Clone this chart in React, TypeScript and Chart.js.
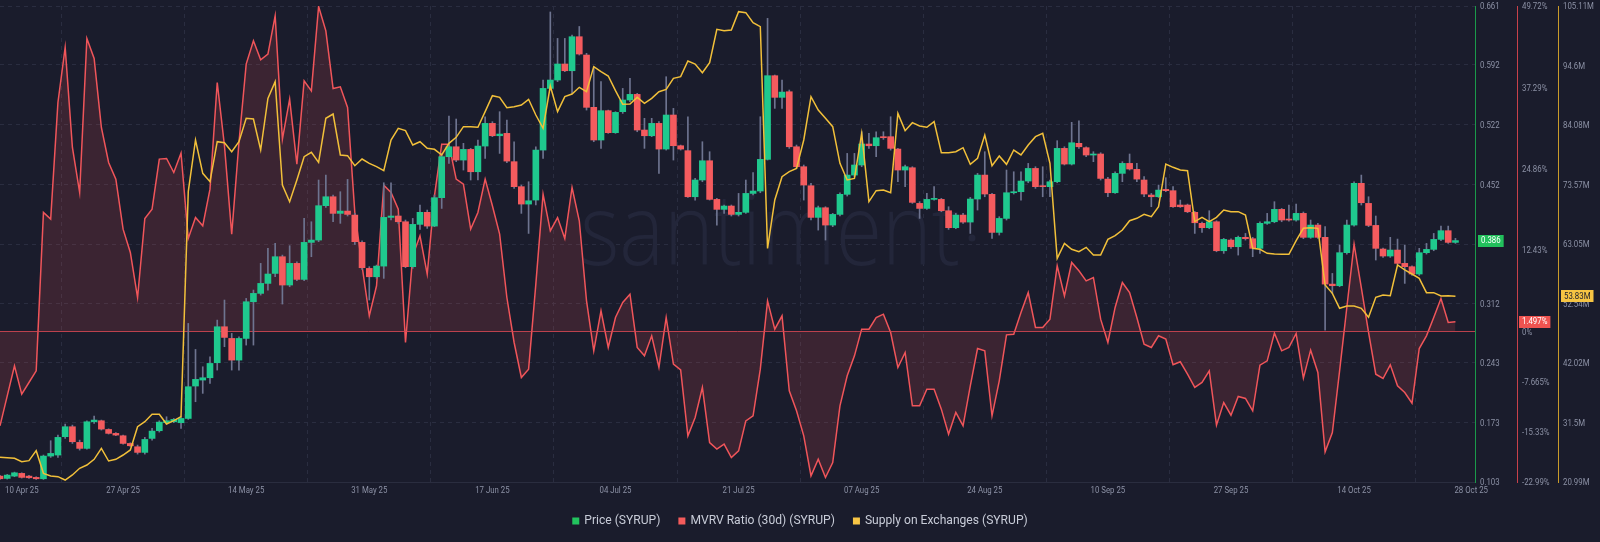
import React, { useEffect, useRef } from 'react';
import { Chart, registerables } from 'chart.js';
Chart.register(...registerables);

// ---------- data ----------
const tickDays = [0, 17, 34, 51, 68, 85, 102, 119, 136, 153, 170, 187, 201];
const tickLabels = ['10 Apr 25', '27 Apr 25', '14 May 25', '31 May 25', '17 Jun 25', '04 Jul 25', '21 Jul 25', '07 Aug 25', '24 Aug 25', '10 Sep 25', '27 Sep 25', '14 Oct 25', '28 Oct 25'];

// daily candles [open, high, low, close], Price (SYRUP)
const ohlc: number[][] = [
  [0.1099, 0.1107, 0.106, 0.1068], [0.1072, 0.1119, 0.1064, 0.1111], [0.1099, 0.1146, 0.1092, 0.1138], [0.1131, 0.1138, 0.1076, 0.1084],
  [0.1099, 0.1107, 0.1072, 0.108], [0.1084, 0.1092, 0.106, 0.1068], [0.1068, 0.1346, 0.106, 0.1334], [0.1334, 0.1514, 0.1318, 0.1365],
  [0.1346, 0.158, 0.1318, 0.1553], [0.1561, 0.1709, 0.1541, 0.1678], [0.1678, 0.1697, 0.1482, 0.1502], [0.1494, 0.1521, 0.1404, 0.1424],
  [0.1424, 0.1748, 0.1416, 0.1736], [0.1736, 0.1803, 0.1717, 0.1756], [0.1748, 0.1756, 0.1639, 0.165], [0.1646, 0.1654, 0.1592, 0.16],
  [0.16, 0.1608, 0.1572, 0.158], [0.1572, 0.158, 0.1474, 0.1482], [0.1482, 0.149, 0.1447, 0.1455], [0.1443, 0.1463, 0.1357, 0.1377],
  [0.1377, 0.1553, 0.1357, 0.1529], [0.1541, 0.1658, 0.1521, 0.1627], [0.1631, 0.1748, 0.1615, 0.1732], [0.1725, 0.1795, 0.1709, 0.1748],
  [0.1736, 0.1775, 0.1725, 0.1764], [0.1725, 0.1795, 0.1658, 0.1775], [0.1775, 0.2889, 0.1764, 0.2147], [0.2155, 0.2584, 0.1971, 0.2233],
  [0.2225, 0.2381, 0.2069, 0.2252], [0.2252, 0.2498, 0.2186, 0.242], [0.2428, 0.2928, 0.2342, 0.285], [0.285, 0.3163, 0.2616, 0.2725],
  [0.2713, 0.2772, 0.2342, 0.2459], [0.2459, 0.2733, 0.2342, 0.2713], [0.2713, 0.3182, 0.2635, 0.3143], [0.3143, 0.328, 0.2635, 0.3241],
  [0.3241, 0.3593, 0.3221, 0.3358], [0.3358, 0.3769, 0.328, 0.3468], [0.3475, 0.3827, 0.3436, 0.3671], [0.3671, 0.369, 0.3116, 0.3339],
  [0.3339, 0.38, 0.3319, 0.3593], [0.3593, 0.3612, 0.3389, 0.3405], [0.3405, 0.412, 0.3389, 0.3839], [0.3839, 0.4081, 0.3671, 0.3866],
  [0.3866, 0.457, 0.3847, 0.4269], [0.4269, 0.4628, 0.4249, 0.4374], [0.4374, 0.4394, 0.4081, 0.4179], [0.4179, 0.4433, 0.4062, 0.4206],
  [0.4206, 0.4577, 0.4148, 0.4167], [0.4159, 0.4179, 0.3815, 0.3847], [0.3839, 0.3858, 0.3522, 0.3542], [0.3534, 0.3554, 0.3163, 0.3436],
  [0.3436, 0.3573, 0.3417, 0.3561], [0.3561, 0.4538, 0.3417, 0.4132], [0.4132, 0.4538, 0.4101, 0.4148], [0.4148, 0.4159, 0.4062, 0.4081],
  [0.4081, 0.4101, 0.3542, 0.3554], [0.3554, 0.412, 0.3534, 0.405], [0.405, 0.4277, 0.3991, 0.4191], [0.4191, 0.4218, 0.4003, 0.403],
  [0.403, 0.4394, 0.4023, 0.4363], [0.4363, 0.4882, 0.4237, 0.4843], [0.4843, 0.532, 0.4765, 0.496], [0.496, 0.5285, 0.4785, 0.4804],
  [0.4804, 0.5, 0.4687, 0.4929], [0.4929, 0.4941, 0.457, 0.4667], [0.4667, 0.5039, 0.457, 0.4968], [0.4968, 0.5312, 0.4824, 0.5234],
  [0.5234, 0.5254, 0.5078, 0.5089], [0.5089, 0.5371, 0.4882, 0.5109], [0.5117, 0.5273, 0.4773, 0.4792], [0.4785, 0.5019, 0.4472, 0.4492],
  [0.4492, 0.4511, 0.4179, 0.4288], [0.4288, 0.455, 0.3944, 0.4327], [0.4335, 0.496, 0.4277, 0.4921], [0.4921, 0.5742, 0.4824, 0.5644],
  [0.5644, 0.654, 0.5625, 0.5742], [0.5742, 0.623, 0.5723, 0.593], [0.593, 0.623, 0.584, 0.5851], [0.5851, 0.627, 0.5586, 0.625],
  [0.625, 0.637, 0.6035, 0.6047], [0.6035, 0.6055, 0.539, 0.5422], [0.5422, 0.5898, 0.5019, 0.5039], [0.5039, 0.5723, 0.4941, 0.5383],
  [0.5383, 0.539, 0.5117, 0.5125], [0.5125, 0.5371, 0.5117, 0.5363], [0.5371, 0.5644, 0.5351, 0.5508], [0.5508, 0.5762, 0.5488, 0.5574],
  [0.5574, 0.5586, 0.5136, 0.5156], [0.5156, 0.5293, 0.4941, 0.5089], [0.5089, 0.5293, 0.5078, 0.5234], [0.5234, 0.5254, 0.4648, 0.4933],
  [0.4933, 0.5781, 0.4921, 0.5332], [0.5332, 0.541, 0.4804, 0.4972], [0.4972, 0.498, 0.4921, 0.4933], [0.4914, 0.5312, 0.4366, 0.4374],
  [0.4374, 0.4589, 0.4335, 0.457], [0.457, 0.5019, 0.455, 0.4796], [0.4796, 0.4902, 0.4335, 0.4343], [0.4343, 0.4355, 0.4042, 0.4226],
  [0.4226, 0.4277, 0.4179, 0.4265], [0.4265, 0.4277, 0.4148, 0.4167], [0.4167, 0.4413, 0.4148, 0.4191], [0.4191, 0.457, 0.4179, 0.4413],
  [0.4413, 0.4656, 0.4394, 0.4441], [0.4441, 0.5312, 0.4421, 0.4812], [0.4812, 0.6465, 0.4804, 0.5793], [0.5793, 0.5801, 0.541, 0.5539],
  [0.5539, 0.5742, 0.541, 0.5601], [0.5605, 0.5625, 0.4941, 0.496], [0.496, 0.498, 0.4706, 0.4726], [0.4726, 0.4746, 0.4335, 0.4511],
  [0.4503, 0.4531, 0.4101, 0.4132], [0.4132, 0.4265, 0.3983, 0.4245], [0.4245, 0.4257, 0.3866, 0.4042], [0.4042, 0.4179, 0.4023, 0.4167],
  [0.4167, 0.4421, 0.4148, 0.4402], [0.4402, 0.4882, 0.4382, 0.4628], [0.4628, 0.4882, 0.4609, 0.4746], [0.4746, 0.5136, 0.4726, 0.4992],
  [0.4992, 0.5117, 0.4941, 0.4972], [0.4972, 0.5136, 0.4843, 0.5066], [0.5078, 0.5136, 0.5046, 0.5066], [0.5078, 0.5312, 0.4921, 0.4941],
  [0.4933, 0.4941, 0.455, 0.4687], [0.4687, 0.4746, 0.4492, 0.4726], [0.4714, 0.4726, 0.4296, 0.4308], [0.4296, 0.4316, 0.412, 0.4237],
  [0.4237, 0.4413, 0.4226, 0.4343], [0.4343, 0.4492, 0.4335, 0.4355], [0.4343, 0.4355, 0.4198, 0.421], [0.421, 0.4257, 0.3991, 0.4011],
  [0.4011, 0.4179, 0.3999, 0.4159], [0.4159, 0.4179, 0.4062, 0.4077], [0.4077, 0.4366, 0.3944, 0.4347], [0.4347, 0.4648, 0.4218, 0.4628],
  [0.4628, 0.4902, 0.4374, 0.4406], [0.4402, 0.4413, 0.3886, 0.3956], [0.3956, 0.414, 0.3925, 0.412], [0.412, 0.4687, 0.4101, 0.4421],
  [0.4421, 0.4667, 0.4406, 0.4433], [0.4433, 0.4667, 0.4335, 0.4558], [0.4558, 0.4765, 0.4538, 0.4706], [0.4706, 0.4726, 0.4472, 0.4492],
  [0.4499, 0.4726, 0.4374, 0.4492], [0.4492, 0.457, 0.4374, 0.455], [0.455, 0.5031, 0.4538, 0.4941], [0.4941, 0.496, 0.4746, 0.4757],
  [0.4757, 0.5246, 0.4746, 0.5007], [0.5, 0.5265, 0.4941, 0.496], [0.4949, 0.496, 0.4843, 0.4863], [0.4863, 0.4902, 0.4785, 0.4875],
  [0.4875, 0.489, 0.457, 0.4589], [0.4581, 0.4601, 0.4374, 0.4421], [0.4421, 0.4667, 0.4413, 0.4648], [0.4648, 0.4785, 0.455, 0.4765],
  [0.4765, 0.4875, 0.4687, 0.4699], [0.4695, 0.4765, 0.455, 0.4581], [0.457, 0.4609, 0.4374, 0.4406], [0.4394, 0.4413, 0.4257, 0.4374],
  [0.4374, 0.4511, 0.4366, 0.4452], [0.446, 0.4597, 0.4433, 0.4445], [0.4445, 0.4492, 0.4249, 0.4257], [0.4277, 0.4335, 0.4249, 0.4257],
  [0.4277, 0.4288, 0.4187, 0.4198], [0.4191, 0.4202, 0.3944, 0.4069], [0.4062, 0.4077, 0.3956, 0.4011], [0.4011, 0.421, 0.3999, 0.4081],
  [0.4081, 0.4093, 0.3729, 0.3741], [0.3741, 0.3886, 0.371, 0.3874], [0.3866, 0.3882, 0.3769, 0.3788], [0.3788, 0.3913, 0.369, 0.3898],
  [0.3898, 0.3944, 0.3866, 0.3882], [0.3882, 0.3898, 0.3671, 0.3769], [0.3769, 0.4081, 0.371, 0.4062], [0.4062, 0.4179, 0.405, 0.4081],
  [0.4081, 0.4316, 0.4069, 0.4226], [0.4226, 0.4237, 0.4081, 0.4101], [0.4109, 0.4277, 0.4089, 0.4101], [0.4101, 0.4288, 0.4089, 0.4179],
  [0.4179, 0.4195, 0.3882, 0.3898], [0.3898, 0.4101, 0.3886, 0.4042], [0.4042, 0.4062, 0.3886, 0.3898], [0.3898, 0.4023, 0.2811, 0.335],
  [0.335, 0.3475, 0.3241, 0.3331], [0.3331, 0.3808, 0.3319, 0.3718], [0.3718, 0.4101, 0.3702, 0.4042], [0.4042, 0.455, 0.403, 0.4531],
  [0.4531, 0.4628, 0.4277, 0.4304], [0.4296, 0.4374, 0.4023, 0.4038], [0.4038, 0.4148, 0.3632, 0.3769], [0.3761, 0.3772, 0.3663, 0.3679],
  [0.3679, 0.3898, 0.3663, 0.3749], [0.3749, 0.3878, 0.3581, 0.3593], [0.3593, 0.3808, 0.3358, 0.3554], [0.3554, 0.3565, 0.3452, 0.3468],
  [0.3468, 0.3769, 0.3452, 0.3718], [0.3718, 0.3827, 0.3702, 0.3757], [0.3757, 0.3944, 0.3741, 0.3874], [0.3874, 0.403, 0.3858, 0.3976],
  [0.3976, 0.403, 0.3827, 0.3839], [0.3839, 0.3886, 0.3827, 0.386],
];

// MVRV Ratio (30d), %
const mvrv = [
  -14.41, -9.83, -5.24, -9.57, -7.79, -6.01, 18.18, 17.16, 34.98, 43.38,
  28.11, 21.23, 44.76, 41.70, 31.16, 25.82, 23.27, 15.63, 12.07, 5.19,
  17.26, 18.69, 26.33, 26.43, 24.29, 27.24, 14.21, 17.41, 16.14, 21.74,
  38.04, 28.36, 14.87, 28.87, 40.84, 44.40, 41.50, 42.37, 48.22, 29.38,
  35.49, 25.56, 38.29, 36.76, 49.65, 45.93, 37.12, 37.38, 34.22, 18.18,
  10.03, 2.39, 6.98, 22.35, 21.23, 18.69, -1.68, 11.56, 14.61, 8.76,
  20.72, 28.62, 28.62, 23.27, 22.51, 15.63, 18.18, 23.27, 19.20, 14.87,
  5.19, -1.68, -7.03, -5.75, 7.23, 20.98, 15.38, 17.41, 14.21, 22.00,
  16.91, 4.68, -2.95, 3.16, -2.44, 2.14, 4.43, 5.70, -2.44, -3.72,
  -0.66, -5.50, 2.14, -4.99, -5.86, -15.94, -13.14, -8.55, -16.96, -17.97,
  -17.21, -19.25, -18.23, -13.65, -12.88, -5.75, 4.68, 0.36, 2.39, -9.06,
  -12.12, -15.94, -22.05, -19.50, -22.30, -20.01, -11.36, -6.77, -3.72, 0.36,
  0.36, 2.14, 2.65, -0.15, -5.50, -3.21, -11.36, -11.36, -8.81, -8.81,
  -11.86, -15.68, -12.37, -14.41, -8.30, -2.60, -2.95, -12.88, -7.54, -0.51,
  -0.41, 2.90, 5.96, 0.61, 0.61, 1.88, 10.03, 5.45, 10.54, 9.27,
  7.74, 8.25, 1.88, -1.68, 3.67, 7.49, 5.96, 2.14, -1.93, -2.44,
  -0.66, -1.17, -5.09, -4.63, -6.52, -8.55, -7.79, -6.01, -14.31, -10.85,
  -12.78, -9.93, -10.23, -12.12, -5.14, -4.48, -0.25, -2.95, -2.44, -0.31,
  -7.13, -2.85, -6.26, -18.38, -15.43, -6.01, 3.67, 13.34, 6.72, -0.15,
  -6.52, -7.18, -5.09, -8.30, -9.32, -10.95, -2.60, -0.66, 2.14, 5.04,
  1.37, 1.497,
];

// Supply on Exchanges, millions
const supply = [
  25.35, 25.29, 25.17, 24.58, 24.76, 26.53, 22.52, 22.05, 21.93, 21.34,
  22.23, 23.41, 23.99, 25.00, 26.94, 24.70, 25.00, 25.76, 26.65, 30.77,
  31.65, 32.95, 32.95, 31.24, 31.83, 32.54, 72.30, 81.43, 75.54, 74.07,
  81.13, 80.96, 79.37, 81.13, 85.26, 85.14, 79.66, 88.79, 91.74, 73.48,
  70.53, 74.36, 78.48, 79.25, 77.48, 85.26, 86.02, 78.78, 78.66, 76.89,
  78.07, 77.31, 76.72, 76.01, 81.43, 83.49, 83.08, 80.55, 81.13, 79.96,
  79.78, 78.78, 80.84, 81.90, 83.79, 83.79, 83.67, 86.44, 89.26, 88.97,
  87.14, 87.32, 87.61, 88.62, 85.85, 83.49, 90.97, 86.44, 89.09, 89.56,
  90.74, 89.97, 94.39, 93.51, 92.74, 90.15, 87.73, 87.79, 88.97, 87.91,
  88.79, 89.97, 90.38, 92.33, 92.62, 95.39, 94.86, 93.33, 95.10, 100.99,
  100.75, 100.87, 104.11, 103.93, 102.16, 101.46, 62.28, 70.83, 74.95, 75.83,
  76.42, 81.43, 89.09, 86.73, 85.26, 83.79, 77.31, 74.36, 74.65, 82.61,
  70.53, 72.48, 72.59, 72.12, 86.14, 83.08, 84.49, 83.90, 83.67, 84.67,
  79.19, 79.19, 79.37, 80.07, 77.13, 78.19, 82.31, 76.89, 78.60, 77.13,
  79.66, 78.78, 80.55, 82.02, 82.61, 77.31, 60.52, 63.17, 62.11, 61.70,
  62.46, 61.11, 61.11, 63.87, 64.52, 65.52, 67.17, 67.59, 68.29, 67.88,
  69.65, 77.19, 76.60, 76.13, 76.01, 67.00, 67.76, 67.00, 67.76, 69.06,
  68.76, 68.76, 68.17, 62.28, 62.11, 61.40, 61.28, 61.22, 61.22, 63.64,
  65.82, 65.94, 65.82, 55.80, 54.33, 51.68, 52.09, 52.09, 51.68, 50.09,
  53.62, 54.04, 53.92, 59.34, 58.46, 57.75, 56.98, 54.45, 54.45, 53.86,
  53.92, 53.83,
];

const priceTicks = [0.103, 0.173, 0.243, 0.312, 0.382, 0.452, 0.522, 0.592, 0.661];
const mvrvTicks = [-22.99, -15.33, -7.665, 0, 12.43, 24.86, 37.29, 49.72];
const supplyTicks = [20.99, 31.5, 42.02, 52.54, 63.05, 73.57, 84.08, 94.6, 105.11];
const legendItems = ['Price (SYRUP)', 'MVRV Ratio (30d) (SYRUP)', 'Supply on Exchanges (SYRUP)'];

// ---------- style ----------
const BG = '#1a1c2c';
const GRID = '#2a2d40';
const GREEN = '#1fc98e';
const RED = '#f45b5e';
const WICK = '#6e7490';
const MVRV_LINE = '#f0555a';
const SUPPLY_LINE = '#f2c03a';
const AXIS_TEXT = '#8c91a5';
const FONT = 'Roboto, "Noto Sans", sans-serif';

function drawText(ctx: any, s: string, x: number, y: number, align: string, font: string, color: string, sx = 1) {
  ctx.save();
  ctx.font = font;
  ctx.fillStyle = color;
  ctx.textBaseline = 'middle';
  ctx.textAlign = 'left';
  const w = ctx.measureText(s).width * sx;
  const x0 = align === 'left' ? x : align === 'right' ? x - w : x - w / 2;
  ctx.translate(x0, y);
  ctx.scale(sx, 1);
  ctx.fillText(s, 0, 0);
  ctx.restore();
  return w;
}

const decoPlugin = {
  id: 'deco',
  beforeDraw(chart: any) {
    const { ctx, width, height } = chart;
    ctx.save();
    ctx.fillStyle = BG;
    ctx.fillRect(0, 0, width, height);
    ctx.restore();
  },
  beforeDatasetsDraw(chart: any) {
    const { ctx, chartArea } = chart;
    ctx.save();
    ctx.beginPath();
    ctx.rect(chartArea.left, chartArea.top, chartArea.right - chartArea.left, chartArea.bottom - chartArea.top);
    ctx.clip();
    // watermark
    ctx.font = '300 100px "Open Sans", sans-serif';
    const w = ctx.measureText('santiment').width;
    const sx = 380 / w;
    ctx.fillStyle = '#23263a';
    ctx.translate(580, 265);
    ctx.scale(sx, 1);
    ctx.textBaseline = 'alphabetic';
    ctx.fillText('santiment', 0, 0);
    ctx.restore();
    ctx.save();
    ctx.fillStyle = '#23263a';
    ctx.beginPath(); ctx.arc(972, 238, 3.5, 0, Math.PI * 2); ctx.fill();
    ctx.restore();
  },
  afterDatasetDraw(chart: any, args: any) {
    if (args.index !== 0) return;
    const { ctx, chartArea } = chart;
    const y = Math.round(chart.scales.yM.getPixelForValue(0)) + 0.5;
    ctx.save();
    ctx.strokeStyle = 'rgba(214,72,82,0.85)';
    ctx.lineWidth = 1;
    ctx.beginPath();
    ctx.moveTo(chartArea.left, y);
    ctx.lineTo(chartArea.right, y);
    ctx.stroke();
    ctx.restore();
  },
  afterDraw(chart: any) {
    const { ctx, chartArea } = chart;
    const axisFont = `9px ${FONT}`;
    const sxA = 0.87;
    const yP = chart.scales.yP, yM = chart.scales.yM, yS = chart.scales.yS, x = chart.scales.x;
    priceTicks.forEach(v => drawText(ctx, v.toFixed(3), yP.left + 5, yP.getPixelForValue(v) + 1, 'left', axisFont, AXIS_TEXT, sxA));
    mvrvTicks.forEach(v => drawText(ctx, `${v}%`, yM.left + 5, yM.getPixelForValue(v) + 1, 'left', axisFont, AXIS_TEXT, sxA));
    supplyTicks.forEach(v => drawText(ctx, `${v}M`, yS.left + 5, yS.getPixelForValue(v) + 1, 'left', axisFont, AXIS_TEXT, sxA));
    // x labels
    const ly = chartArea.bottom + 9;
    tickDays.forEach((d, i) => {
      const px = x.getPixelForValue(d);
      const first = i === 0, last = i === tickDays.length - 1;
      drawText(ctx, tickLabels[i], first ? px + 5 : last ? px - 1 : px, ly, first || last ? 'left' : 'center', axisFont, AXIS_TEXT, sxA);
    });
    // value tags
    const tag = (scale: any, value: number, label: string, bg: string, fg: string, dx: number) => {
      const y = scale.getPixelForValue(value);
      ctx.save();
      ctx.font = axisFont;
      const w = ctx.measureText(label).width * sxA + 6;
      ctx.fillStyle = bg;
      ctx.fillRect(scale.left + dx, Math.round(y) - 6, w, 12);
      ctx.restore();
      drawText(ctx, label, scale.left + dx + 3, y + 0.5, 'left', axisFont, fg, sxA);
    };
    const lastC = ohlc[ohlc.length - 1][3];
    const lastM = mvrv[mvrv.length - 1];
    const lastS = supply[supply.length - 1];
    tag(yP, lastC, lastC.toFixed(3), '#22c05c', '#ffffff', 3);
    tag(yM, lastM, `${lastM}%`, '#ef5350', '#ffffff', 2);
    tag(yS, lastS, `${lastS}M`, '#f6c443', '#1a1c2c', 3);
    // legend
    const lf = `13px ${FONT}`;
    const sxL = 0.93;
    const colors = ['#22c35e', '#f45b5b', '#f8c545'];
    ctx.save();
    ctx.font = lf;
    const widths = legendItems.map(t => ctx.measureText(t).width * sxL);
    ctx.restore();
    const box = 7, gapBox = 5, gapItem = 18;
    const total = widths.reduce((a, b) => a + b, 0) + legendItems.length * (box + gapBox) + gapItem * (legendItems.length - 1);
    let lx = 800 - total / 2;
    const legY = 521;
    legendItems.forEach((t, i) => {
      ctx.save();
      ctx.fillStyle = colors[i];
      ctx.fillRect(lx, legY - 3.5, box, box);
      ctx.restore();
      lx += box + gapBox;
      drawText(ctx, t, lx, legY, 'left', lf, '#c8ccd8', sxL);
      lx += widths[i] + gapItem;
    });
  },
};

export default function App() {
  const ref = useRef<HTMLCanvasElement>(null);
  useEffect(() => {
    document.body.style.margin = '0';
    document.body.style.background = BG;
    const canvas = ref.current as HTMLCanvasElement;
    const idx = ohlc.map((_, i) => i);
    const fixW = (w: number) => (s: any) => { s.width = w; s.paddingTop = 0; s.paddingBottom = 0; };
    const chart = new Chart(canvas, {
      type: 'bar',
      data: {
        datasets: [
          {
            type: 'line', label: 'MVRV Ratio (30d) (SYRUP)', yAxisID: 'yM',
            data: idx.map(i => ({ x: i, y: mvrv[i] })),
            borderColor: MVRV_LINE, borderWidth: 1.5, pointRadius: 0, tension: 0,
            fill: { value: 0 }, backgroundColor: 'rgba(245,85,90,0.15)', order: 3,
          } as any,
          {
            type: 'bar', label: 'wick', yAxisID: 'yP',
            data: idx.map(i => ({ x: i, y: [ohlc[i][2], ohlc[i][1]] })),
            backgroundColor: WICK, barThickness: 1, grouped: false, order: 2,
          } as any,
          {
            type: 'bar', label: 'Price (SYRUP)', yAxisID: 'yP',
            data: idx.map(i => ({ x: i, y: [ohlc[i][0], ohlc[i][3]] })),
            backgroundColor: idx.map(i => (ohlc[i][3] >= ohlc[i][0] ? GREEN : RED)),
            barThickness: 6, grouped: false, minBarLength: 1, order: 1,
          } as any,
          {
            type: 'line', label: 'Supply on Exchanges (SYRUP)', yAxisID: 'yS',
            data: idx.map(i => ({ x: i, y: supply[i] })),
            borderColor: SUPPLY_LINE, borderWidth: 1.5, pointRadius: 0, tension: 0, fill: false, order: 0,
          } as any,
        ],
      },
      options: {
        responsive: false,
        animation: false,
        devicePixelRatio: 1,
        events: [],
        layout: { padding: { top: 6, bottom: 60, left: 0, right: 0 } },
        plugins: { legend: { display: false }, tooltip: { enabled: false } },
        scales: {
          x: {
            type: 'linear', min: 0, max: 203.7, offset: false,
            ticks: { display: false },
            grid: { color: GRID, drawTicks: false },
            border: { display: true, color: '#2a2d3f', dash: [4, 4] },
            afterBuildTicks: (s: any) => { s.ticks = tickDays.slice(1, -1).map(v => ({ value: v })); },
            afterFit: (s: any) => { s.height = 0; s.paddingLeft = 0; s.paddingRight = 0; },
          },
          yP: {
            type: 'linear', position: 'right', weight: 0, min: 0.103, max: 0.661,
            ticks: { display: false },
            grid: { color: GRID, drawTicks: false },
            border: { display: true, color: '#1b9a4a', dash: [4, 4] },
            afterBuildTicks: (s: any) => { s.ticks = priceTicks.map(v => ({ value: v })); },
            afterFit: fixW(42),
          },
          yM: {
            type: 'linear', position: 'right', weight: 1, min: -22.99, max: 49.72,
            ticks: { display: false },
            grid: { display: false, drawTicks: false },
            border: { display: true, color: '#c8414a' },
            afterBuildTicks: (s: any) => { s.ticks = mvrvTicks.map(v => ({ value: v })); },
            afterFit: fixW(41),
          },
          yS: {
            type: 'linear', position: 'right', weight: 2, min: 20.99, max: 105.11,
            ticks: { display: false },
            grid: { display: false, drawTicks: false },
            border: { display: true, color: '#c99b2a' },
            afterBuildTicks: (s: any) => { s.ticks = supplyTicks.map(v => ({ value: v })); },
            afterFit: fixW(42),
          },
        },
      } as any,
      plugins: [decoPlugin],
    });
    return () => chart.destroy();
  }, []);
  return (
    <div style={{ width: 1600, height: 542, background: BG }}>
      <canvas ref={ref} width={1600} height={542} style={{ display: 'block' }} />
    </div>
  );
}
